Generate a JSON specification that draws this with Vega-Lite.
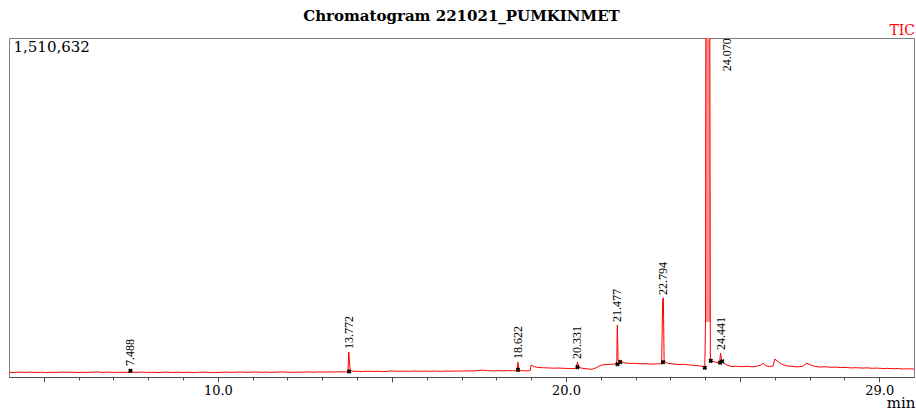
{
  "$schema": "https://vega.github.io/schema/vega-lite/v6.json",
  "autosize": "none",
  "padding": {"left": 9, "top": 38, "right": 2, "bottom": 33},
  "width": 905,
  "height": 339,
  "background": "white",
  "title": {"text": "Chromatogram 221021_PUMKINMET", "font": "DejaVu Serif", "fontSize": 15, "fontWeight": "bold", "color": "#000", "anchor": "middle", "frame": "group", "offset": 0},
  "config": {"view": {"stroke": "#808080", "strokeWidth": 1}, "axis": {"domainColor": "#505050", "tickColor": "#505050"}},
  "resolve": {"axis": {"x": "independent"}},
  "datasets": {
    "trace": [
      {"t":4.0,"v":21000},{"t":4.15,"v":20100},{"t":4.3,"v":22000},{"t":4.45,"v":20600},{"t":4.6,"v":21700},{"t":4.75,"v":20300},{"t":4.9,"v":21400},{"t":5.05,"v":19800},{"t":5.2,"v":21100},{"t":5.35,"v":20500},{"t":5.5,"v":22000},{"t":5.65,"v":20900},{"t":5.8,"v":21500},{"t":5.95,"v":20000},{"t":6.1,"v":21300},{"t":6.25,"v":20400},{"t":6.4,"v":21800},{"t":6.55,"v":22300},{"t":6.7,"v":20700},{"t":6.85,"v":21600},{"t":7.0,"v":20500},{"t":7.15,"v":21200},{"t":7.3,"v":20800},{"t":7.45,"v":21500},{"t":7.488,"v":35000},{"t":7.52,"v":22000},{"t":7.65,"v":20600},{"t":7.8,"v":21900},{"t":7.95,"v":20400},{"t":8.1,"v":21300},{"t":8.25,"v":19700},{"t":8.4,"v":21000},{"t":8.55,"v":21700},{"t":8.7,"v":20200},{"t":8.85,"v":21400},{"t":9.0,"v":20600},{"t":9.15,"v":21200},{"t":9.3,"v":19800},{"t":9.45,"v":20900},{"t":9.6,"v":21800},{"t":9.75,"v":20300},{"t":9.9,"v":19600},{"t":10.05,"v":20500},{"t":10.2,"v":21700},{"t":10.35,"v":20900},{"t":10.5,"v":21400},{"t":10.65,"v":22100},{"t":10.8,"v":20700},{"t":10.95,"v":21500},{"t":11.1,"v":22200},{"t":11.25,"v":21000},{"t":11.4,"v":21800},{"t":11.55,"v":20600},{"t":11.7,"v":21900},{"t":11.85,"v":22500},{"t":12.0,"v":21100},{"t":12.15,"v":20800},{"t":12.3,"v":22000},{"t":12.45,"v":21500},{"t":12.6,"v":22700},{"t":12.75,"v":21300},{"t":12.9,"v":22400},{"t":13.05,"v":21800},{"t":13.2,"v":22900},{"t":13.35,"v":22200},{"t":13.5,"v":23100},{"t":13.65,"v":22600},{"t":13.74,"v":23500},{"t":13.76,"v":111400},{"t":13.78,"v":70000},{"t":13.8,"v":32000},{"t":13.85,"v":26500},{"t":14.0,"v":25200},{"t":14.15,"v":24300},{"t":14.3,"v":26000},{"t":14.45,"v":24700},{"t":14.6,"v":25600},{"t":14.75,"v":24100},{"t":14.9,"v":25900},{"t":15.05,"v":26700},{"t":15.2,"v":25300},{"t":15.35,"v":26100},{"t":15.5,"v":25400},{"t":15.65,"v":26800},{"t":15.8,"v":25600},{"t":15.95,"v":26300},{"t":16.1,"v":25500},{"t":16.25,"v":26400},{"t":16.4,"v":25200},{"t":16.55,"v":26600},{"t":16.7,"v":25800},{"t":16.85,"v":26900},{"t":17.0,"v":26100},{"t":17.15,"v":27400},{"t":17.3,"v":26800},{"t":17.45,"v":28500},{"t":17.6,"v":30500},{"t":17.75,"v":28200},{"t":17.9,"v":27000},{"t":18.05,"v":28100},{"t":18.2,"v":27300},{"t":18.35,"v":28600},{"t":18.5,"v":27800},{"t":18.6,"v":28500},{"t":18.622,"v":66840},{"t":18.65,"v":30000},{"t":18.72,"v":28000},{"t":18.85,"v":27400},{"t":18.97,"v":28000},{"t":19.0,"v":53000},{"t":19.08,"v":46500},{"t":19.2,"v":42500},{"t":19.35,"v":41200},{"t":19.5,"v":40400},{"t":19.65,"v":39200},{"t":19.8,"v":40000},{"t":19.95,"v":38600},{"t":20.1,"v":38000},{"t":20.22,"v":37200},{"t":20.3,"v":39500},{"t":20.331,"v":66840},{"t":20.36,"v":44000},{"t":20.45,"v":39500},{"t":20.55,"v":37500},{"t":20.65,"v":35500},{"t":20.75,"v":34300},{"t":20.85,"v":40000},{"t":20.95,"v":48000},{"t":21.03,"v":53500},{"t":21.15,"v":55800},{"t":21.3,"v":56500},{"t":21.42,"v":58000},{"t":21.46,"v":62000},{"t":21.477,"v":231712},{"t":21.5,"v":72000},{"t":21.55,"v":75000},{"t":21.6,"v":68000},{"t":21.7,"v":62500},{"t":21.85,"v":61000},{"t":22.0,"v":60500},{"t":22.15,"v":58800},{"t":22.3,"v":59600},{"t":22.45,"v":57500},{"t":22.6,"v":58300},{"t":22.75,"v":59000},{"t":22.78,"v":350000},{"t":22.8,"v":352000},{"t":22.82,"v":78000},{"t":22.86,"v":65000},{"t":22.95,"v":60500},{"t":23.1,"v":58000},{"t":23.25,"v":55500},{"t":23.4,"v":56300},{"t":23.55,"v":53500},{"t":23.7,"v":52000},{"t":23.85,"v":49500},{"t":23.95,"v":46000},{"t":23.99,"v":44560},{"t":24.01,"v":245000},{"t":24.03,"v":3000000},{"t":24.12,"v":3000000},{"t":24.15,"v":76000},{"t":24.22,"v":70000},{"t":24.3,"v":66000},{"t":24.38,"v":63500},{"t":24.42,"v":71000},{"t":24.441,"v":106944},{"t":24.47,"v":78000},{"t":24.52,"v":64000},{"t":24.6,"v":55000},{"t":24.75,"v":46500},{"t":24.9,"v":48000},{"t":25.05,"v":46000},{"t":25.2,"v":47500},{"t":25.35,"v":45500},{"t":25.5,"v":48500},{"t":25.62,"v":54000},{"t":25.67,"v":62000},{"t":25.74,"v":50000},{"t":25.85,"v":46500},{"t":25.95,"v":49000},{"t":26.0,"v":80000},{"t":26.08,"v":70000},{"t":26.2,"v":57000},{"t":26.35,"v":50000},{"t":26.5,"v":47000},{"t":26.65,"v":45000},{"t":26.8,"v":47500},{"t":26.92,"v":62000},{"t":27.02,"v":54000},{"t":27.15,"v":47000},{"t":27.3,"v":44500},{"t":27.45,"v":45800},{"t":27.6,"v":43200},{"t":27.75,"v":44100},{"t":27.9,"v":41800},{"t":28.05,"v":42600},{"t":28.2,"v":40500},{"t":28.35,"v":41400},{"t":28.5,"v":39800},{"t":28.65,"v":40600},{"t":28.8,"v":38900},{"t":28.95,"v":39700},{"t":29.1,"v":37800},{"t":29.25,"v":38600},{"t":29.4,"v":36900},{"t":29.55,"v":37700},{"t":29.7,"v":35800},{"t":29.85,"v":36500},{"t":30.0,"v":35200}
    ],
    "markers": [
      {"t":7.488,"v":27000},{"t":13.772,"v":25000},{"t":18.622,"v":32000},{"t":20.331,"v":44000},{"t":21.48,"v":57000},{"t":21.56,"v":66000},{"t":22.79,"v":66000},{"t":23.99,"v":41000},{"t":24.16,"v":72000},{"t":24.43,"v":64000},{"t":24.49,"v":70000}
    ],
    "labels": [
      {"t":7.488,"v":35648,"label":"7.488"},{"t":13.772,"v":111400,"label":"13.772"},{"t":18.622,"v":66840,"label":"18.622"},{"t":20.331,"v":66840,"label":"20.331"},{"t":21.477,"v":231712,"label":"21.477"},{"t":22.794,"v":352024,"label":"22.794"},{"t":24.441,"v":106944,"label":"24.441"}
    ],
    "toplabel": [{"t":24.07,"v":1362000,"label":"24.070"}]
  },
  "layer": [
    {
      "data": {"name": "trace"},
      "transform": [{"filter": "datum.t >= 24.01 && datum.t <= 24.15"}],
      "mark": {"type": "area", "color": "#ff8c8c", "clip": true},
      "encoding": {
        "x": {"field": "t", "type": "quantitative", "scale": {"domain": [4, 30], "nice": false, "zero": false},
          "axis": {"orient": "bottom", "values": [10, 20, 29], "grid": false, "labelFlush": false, "labelOverlap": false,
            "tickSize": 5, "format": ".1f",
            "labelFont": "DejaVu Serif", "labelFontSize": 13, "labelColor": "#000", "labelPadding": 2,
            "title": "min", "titleFont": "DejaVu Serif", "titleFontSize": 15, "titleFontWeight": "normal", "titleColor": "#000",
            "titleAnchor": "end", "titleAlign": "right", "titleBaseline": "alphabetic", "titleX": 906, "titleY": 30}},
        "y": {"field": "v", "type": "quantitative", "scale": {"domain": [0, 1510632], "nice": false, "zero": false},
          "axis": {"values": [1510632], "format": ",.0f", "grid": false, "ticks": false, "domain": false, "title": null,
            "labelAlign": "left", "labelBaseline": "top", "labelPadding": -4, "labelOffset": 1,
            "labelFont": "DejaVu Serif", "labelFontSize": 15, "labelColor": "#000"}},
        "y2": {"datum": 245000}
      }
    },
    {
      "data": {"name": "trace"},
      "mark": {"type": "line", "color": "#ff0000", "strokeWidth": 1, "clip": true},
      "encoding": {
        "x": {"field": "t", "type": "quantitative",
          "axis": {"orient": "bottom", "values": [5,6,7,8,9,10,11,12,13,14,15,16,17,18,19,20,21,22,23,24,25,26,27,28,29], "grid": false, "labels": false, "tickSize": 3, "domain": true, "title": null}},
        "y": {"field": "v", "type": "quantitative"}
      }
    },
    {
      "data": {"name": "markers"},
      "mark": {"type": "point", "shape": "cross", "angle": 45, "filled": true, "size": 22, "color": "#000", "opacity": 1},
      "encoding": {
        "x": {"field": "t", "type": "quantitative",
          "axis": {"orient": "bottom", "values": [5, 15, 25], "grid": false, "labels": false, "tickSize": 5, "domain": false, "title": null}},
        "y": {"field": "v", "type": "quantitative"}
      }
    },
    {
      "data": {"name": "labels"},
      "mark": {"type": "text", "angle": 270, "align": "left", "baseline": "middle", "dx": 3, "font": "Liberation Serif", "fontSize": 12, "color": "#000"},
      "encoding": {
        "x": {"field": "t", "type": "quantitative", "axis": null},
        "y": {"field": "v", "type": "quantitative"},
        "text": {"field": "label"}
      }
    },
    {
      "data": {"name": "toplabel"},
      "mark": {"type": "text", "angle": 270, "align": "left", "baseline": "middle", "dy": 19, "font": "Liberation Serif", "fontSize": 12, "color": "#000"},
      "encoding": {
        "x": {"field": "t", "type": "quantitative", "axis": null},
        "y": {"field": "v", "type": "quantitative"},
        "text": {"field": "label"}
      }
    },
    {
      "data": {"values": [{}]},
      "mark": {"type": "text", "text": "TIC", "align": "right", "baseline": "alphabetic", "dx": 1, "dy": -3, "font": "DejaVu Serif", "fontSize": 14, "color": "#ff0000"},
      "encoding": {
        "x": {"datum": 30, "type": "quantitative", "axis": null},
        "y": {"datum": 1510632, "type": "quantitative"}
      }
    }
  ]
}
